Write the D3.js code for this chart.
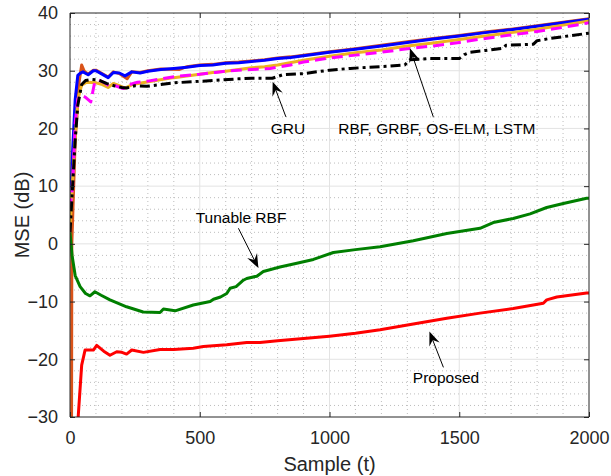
<!DOCTYPE html>
<html>
<head>
<meta charset="utf-8">
<script src="https://cdn.jsdelivr.net/npm/d3@7/dist/d3.min.js"></script>
<style>
html,body{margin:0;padding:0;background:#fff;}
svg{display:block;font-family:"Liberation Sans",Arial,Helvetica,sans-serif;}
</style>
</head>
<body>
<svg id="chart" width="611" height="476"></svg>
<script>
// ---------- data ----------
const xTicks = [0, 500, 1000, 1500, 2000];
const yTicks = [-30, -20, -10, 0, 10, 20, 30, 40];

const tOrange = [0,5,7,20,35,45,55,70,90,100,120,147,167,190,220,238,270,300,350,420,450,500,550,600,650,700,750,800,850,900,950,1000,1100,1200,1300,1400,1500,1600,1700,1800,1900,2000];
const vOrange = [-200,-60,0,18,28,31,29.9,29.4,30.1,30.1,29.6,28.9,29.8,29.5,28.6,29.8,29.7,30.0,30.3,30.2,30.7,31.0,31.1,31.4,31.5,31.7,31.9,32.2,32.4,32.7,33.0,33.3,33.8,34.4,35.0,35.6,36.1,36.7,37.2,37.8,38.4,39.0];

const tBlue = [0,10,20,30,40,50,70,90,100,120,147,167,190,212,238,270,300,350,400,450,500,550,600,650,700,750,800,850,900,950,1000,1100,1200,1300,1400,1500,1600,1700,1800,1900,2000];
const vBlue = [5,16,25,29.2,29.6,29.8,29.3,30.0,30.0,29.5,28.8,29.7,29.6,29.1,29.8,29.6,29.9,30.2,30.4,30.6,30.9,31.0,31.3,31.4,31.6,31.8,32.1,32.3,32.6,32.9,33.2,33.7,34.3,34.9,35.5,36.0,36.6,37.1,37.7,38.3,38.9];

const tYellow = [0,15,30,45,64,100,125,147,167,190,212,240,280,330,400,450,500,550,600,650,700,750,800,900,1000,1100,1200,1300,1400,1500,1600,1700,1800,1900,2000];
const vYellow = [3,15,25,27.5,28.0,27.9,27.6,27.1,27.8,27.4,27.0,27.6,27.9,28.3,28.8,29.1,29.4,29.7,29.9,30.2,30.5,30.7,31.0,31.8,32.5,33.1,33.6,34.3,34.8,35.4,36.0,36.6,37.2,37.9,38.6];

const tMagenta = [0,10,20,30,40,60,80,95,110,130,150,175,205,230,260,300,350,424,500,560,617,700,771,850,900,1000,1100,1200,1300,1400,1500,1600,1700,1800,1900,2000];
const vMagenta = [6,10,21,25,25.8,25.4,24.6,28.0,28.4,28.0,27.4,27.4,26.9,27.6,28.0,28.2,28.6,29.1,29.4,29.7,30.0,30.2,30.4,31.0,31.5,32.2,32.7,33.2,33.8,34.3,34.9,35.6,36.2,36.8,37.5,38.3];

const tGRU = [0,10,20,30,45,60,85,110,140,170,200,218,250,296,350,400,476,550,650,700,780,800,820,900,1000,1080,1150,1233,1290,1310,1386,1500,1520,1541,1600,1670,1680,1786,1800,1850,1900,2000];
const vGRU = [2,10,18,24,27.6,28.3,28.5,28.4,27.8,27.4,27.1,27.0,27.4,27.3,27.6,27.9,28.1,28.3,28.6,28.7,28.7,29.0,29.3,29.5,30.1,30.4,30.6,30.8,31.0,31.9,32.1,32.1,32.8,33.2,33.5,33.9,34.4,34.6,35.2,35.6,35.9,36.5];

const tTunable = [0,8,20,39,60,77,96,120,154,218,282,347,360,405,475,540,553,580,604,617,640,668,681,720,745,809,870,938,1015,1100,1195,1323,1452,1580,1631,1708,1773,1837,1901,1991,2000];
const vTunable = [2,-2,-5.5,-7.4,-8.6,-9.0,-8.3,-8.9,-9.7,-10.9,-11.8,-11.9,-11.3,-11.6,-10.6,-10.0,-9.6,-9.2,-8.6,-7.7,-7.4,-6.3,-6.0,-5.6,-4.8,-4.0,-3.4,-2.7,-1.5,-1.0,-0.5,0.55,1.8,2.7,3.7,4.4,5.2,6.3,7.0,7.9,7.9];

const tProposed = [0,30,45,58,90,103,130,154,180,200,218,238,283,347,400,475,514,604,681,732,800,900,1000,1100,1195,1323,1452,1580,1708,1824,1837,1876,1991,2000];
const vProposed = [-45,-31,-21,-18.4,-18.4,-17.6,-18.6,-19.3,-18.7,-18.8,-19.1,-18.4,-18.8,-18.3,-18.3,-18.1,-17.8,-17.5,-17.1,-17.1,-16.8,-16.4,-16.0,-15.5,-14.9,-13.9,-12.9,-12.0,-11.2,-10.3,-9.7,-9.2,-8.5,-8.5];

// annotations in data coordinates: label, text pos, arrow start, arrow tip
const annLabels = ["GRU", "RBF, GRBF, OS-ELM, LSTM", "Tunable RBF", "Proposed"];
const annText  = [[840,20.0],[1414,20.0],[659,4.5],[1449,-23.2]];
const annFrom  = [[832,22.0],[1400,22.0],[649,2.7],[1439,-21.4]];
const annTip   = [[781,28.1],[1310,33.9],[726,-4.2],[1385,-15.2]];

// ---------- layout ----------
const W = 611, H = 476;
const m = {left:70, top:13, right:22, bottom:59};
const iw = W - m.left - m.right, ih = H - m.top - m.bottom;
const svg = d3.select("#chart");
const x = d3.scaleLinear().domain([0,2000]).range([m.left, m.left+iw]);
const y = d3.scaleLinear().domain([-30,40]).range([m.top+ih, m.top]);

// clip
svg.append("defs").append("clipPath").attr("id","clip")
  .append("rect").attr("x",m.left).attr("y",m.top).attr("width",iw).attr("height",ih);

// minor grid
const g = svg.append("g");
g.selectAll(".mx").data(d3.range(100,2000,100).filter(v=>v%500!==0)).join("line")
  .attr("x1",d=>x(d)).attr("x2",d=>x(d)).attr("y1",m.top).attr("y2",m.top+ih)
  .attr("stroke","#bdbdbd").attr("stroke-width",1).attr("stroke-dasharray","1,3");
g.selectAll(".my").data(d3.range(-28,40,2).filter(v=>v%10!==0)).join("line")
  .attr("y1",d=>y(d)).attr("y2",d=>y(d)).attr("x1",m.left).attr("x2",m.left+iw)
  .attr("stroke","#bdbdbd").attr("stroke-width",1).attr("stroke-dasharray","1,3");
// major grid
g.selectAll(".Mx").data(xTicks.slice(1,-1)).join("line")
  .attr("x1",d=>x(d)).attr("x2",d=>x(d)).attr("y1",m.top).attr("y2",m.top+ih)
  .attr("stroke","#e3e3e3").attr("stroke-width",1);
g.selectAll(".My").data(yTicks.slice(1,-1)).join("line")
  .attr("y1",d=>y(d)).attr("y2",d=>y(d)).attr("x1",m.left).attr("x2",m.left+iw)
  .attr("stroke","#e3e3e3").attr("stroke-width",1);

// series
const series = [
  {t:tOrange, v:vOrange, color:"#D95319", dash:null},
  {t:tBlue, v:vBlue, color:"#0000FF", dash:null},
  {t:tYellow, v:vYellow, color:"#EDB120", dash:null},
  {t:tMagenta, v:vMagenta, color:"#FF00FF", dash:"11,6"},
  {t:tGRU, v:vGRU, color:"#000000", dash:"10,4,3,4"},
  {t:tTunable, v:vTunable, color:"#007F00", dash:null},
  {t:tProposed, v:vProposed, color:"#FF0000", dash:null}
];
const line = d3.line().x(d=>x(d[0])).y(d=>y(d[1]));
const lg = svg.append("g").attr("clip-path","url(#clip)");
series.forEach(s=>{
  lg.append("path").datum(s.t.map((t,i)=>[t,s.v[i]]))
    .attr("d",line).attr("fill","none").attr("stroke",s.color)
    .attr("stroke-width",3).attr("stroke-linejoin","round")
    .attr("stroke-dasharray",s.dash);
});

// axes (box with inward ticks)
const axColor = "#262626";
const tl = 5;
const fmt = d3.format("d");
const xb = d3.axisBottom(x).tickValues(xTicks).tickSize(-tl).tickPadding(14).tickFormat(fmt);
const xt = d3.axisTop(x).tickValues(xTicks).tickSize(-tl).tickFormat("");
const yl = d3.axisLeft(y).tickValues(yTicks).tickSize(-tl).tickPadding(12).tickFormat(fmt);
const yr = d3.axisRight(y).tickValues(yTicks).tickSize(-tl).tickFormat("");
function style(sel){
  sel.selectAll("path,line").attr("stroke",axColor);
  sel.select(".domain").attr("stroke-width",1);
  sel.selectAll("text").attr("fill","#262626").style("font-size","18px")
     .style("font-family","'Liberation Sans',Arial,sans-serif");
}
svg.append("g").attr("transform",`translate(0,${m.top+ih})`).call(xb).call(style)
  .call(s=>s.select(".domain").attr("d",`M${m.left},0H${m.left+iw}`));
svg.append("g").attr("transform",`translate(0,${m.top})`).call(xt).call(style)
  .call(s=>s.select(".domain").attr("d",`M${m.left},0H${m.left+iw}`));
svg.append("g").attr("transform",`translate(${m.left},0)`).call(yl).call(style)
  .call(s=>s.select(".domain").attr("d",`M0,${m.top}V${m.top+ih}`));
svg.append("g").attr("transform",`translate(${m.left+iw},0)`).call(yr).call(style)
  .call(s=>s.select(".domain").attr("d",`M0,${m.top}V${m.top+ih}`));

// axis labels
svg.append("text").attr("x",m.left+iw/2).attr("y",471).attr("text-anchor","middle")
  .attr("fill","#262626").style("font-size","20px").text("Sample (t)");
svg.append("text").attr("transform",`translate(29,${m.top+ih/2}) rotate(-90)`)
  .attr("text-anchor","middle").attr("fill","#262626").style("font-size","20px").text("MSE (dB)");

// annotations
const ag = svg.append("g");
annLabels.forEach((lab,i)=>{
  const [x0,y0] = [x(annFrom[i][0]), y(annFrom[i][1])];
  const [x1,y1] = [x(annTip[i][0]), y(annTip[i][1])];
  const dx = x1-x0, dy = y1-y0, len = Math.hypot(dx,dy);
  const ux = dx/len, uy = dy/len, px = -uy, py = ux;
  const L = 14, Wd = 5.5, N = 9;
  ag.append("line").attr("x1",x0).attr("y1",y0).attr("x2",x1-ux*N).attr("y2",y1-uy*N)
    .attr("stroke","#000").attr("stroke-width",1);
  const pts = [[x1,y1],[x1-ux*L+px*Wd,y1-uy*L+py*Wd],[x1-ux*N,y1-uy*N],[x1-ux*L-px*Wd,y1-uy*L-py*Wd]];
  ag.append("path").attr("d","M"+pts.map(p=>p.join(",")).join("L")+"Z").attr("fill","#000");
  ag.append("text").attr("x",x(annText[i][0])).attr("y",y(annText[i][1]))
    .attr("text-anchor","middle").attr("dominant-baseline","central")
    .attr("fill","#000").style("font-size","15.5px").text(lab);
});
</script>
</body>
</html>
